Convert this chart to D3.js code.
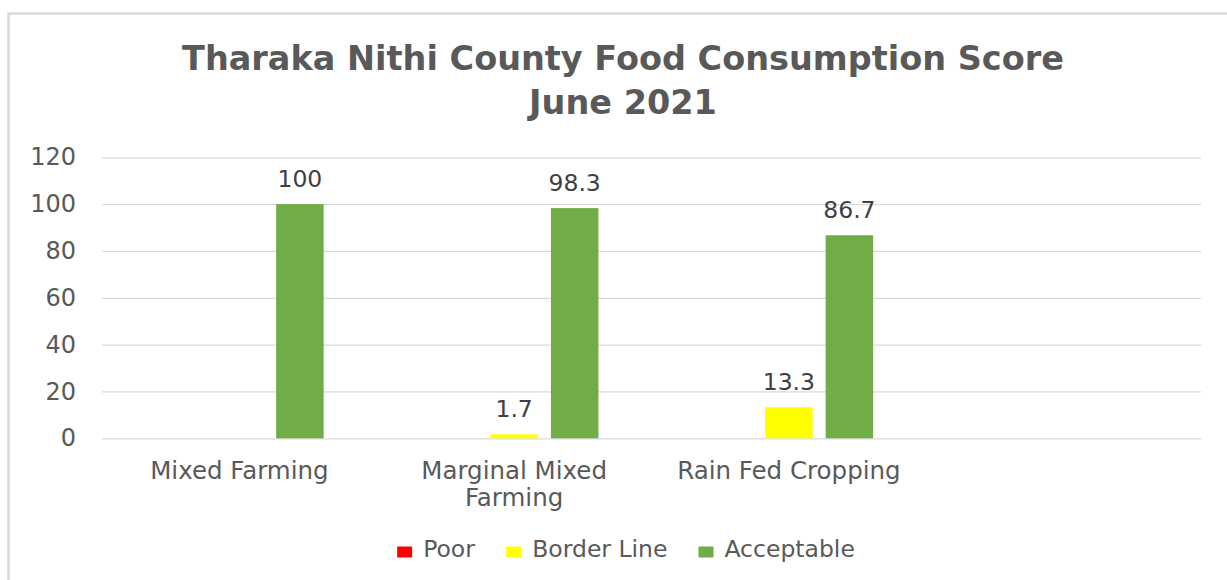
<!DOCTYPE html>
<html>
<head>
<meta charset="utf-8">
<script src="https://cdn.jsdelivr.net/npm/d3@7"></script>
<style>
  html, body { margin: 0; padding: 0; background: #ffffff; }
  svg { display: block; font-family: "DejaVu Sans", Verdana, sans-serif; }
</style>
</head>
<body>
<svg id="chart" width="1227" height="580"></svg>
<script>
// Food consumption score shares (%) by livelihood zone
const categories = ["Mixed Farming", "Marginal Mixed Farming", "Rain Fed Cropping", ""];
const seriesNames = ["Poor", "Border Line", "Acceptable"];
const poor = [null, null, null, null];
const borderLine = [null, 1.7, 13.3, null];
const acceptable = [100, 98.3, 86.7, null];
const seriesColors = ["#FF0000", "#FFFF00", "#70AD47"];
const yTicks = [0, 20, 40, 60, 80, 100, 120];
const titleLines = ["Tharaka Nithi County Food Consumption Score", "June 2021"];

const seriesValues = [poor, borderLine, acceptable];

const svg = d3.select("#chart");
const plot = { left: 102, right: 1201, top: 157.3, bottom: 438.3 };
const centerX = 623;

// outer frame
svg.append("rect")
  .attr("x", 8.5).attr("y", 13.5)
  .attr("width", 1300).attr("height", 700)
  .attr("fill", "none")
  .attr("stroke", "#d9d9d9")
  .attr("stroke-width", 2.5);

// title
svg.append("g").selectAll("text")
  .data(titleLines)
  .join("text")
  .attr("x", centerX)
  .attr("y", (d, i) => 70 + i * 44)
  .attr("text-anchor", "middle")
  .attr("font-weight", "bold")
  .attr("font-size", 33.5)
  .attr("fill", "#595959")
  .text(d => d);

const x0 = d3.scaleBand()
  .domain(categories)
  .range([plot.left, plot.right])
  .padding(0);

const x1 = d3.scaleBand()
  .domain(seriesNames)
  .range([0, x0.bandwidth()])
  .paddingInner(0.215)
  .paddingOuter(0.877);

const y = d3.scaleLinear()
  .domain([0, 120])
  .range([plot.bottom, plot.top]);

// y axis with gridlines
const yAxis = svg.append("g")
  .attr("transform", `translate(${plot.left},0)`)
  .call(d3.axisLeft(y)
    .tickValues(yTicks)
    .tickSize(-(plot.right - plot.left))
    .tickPadding(26));
yAxis.select(".domain").remove();
yAxis.selectAll(".tick line").attr("stroke", "#d9d9d9").attr("stroke-width", 1.2);
yAxis.selectAll(".tick text")
  .attr("font-family", "DejaVu Sans, sans-serif")
  .attr("font-size", 24)
  .attr("fill", "#595959");

// category axis
const xAxis = svg.append("g")
  .attr("transform", `translate(0,${plot.bottom})`)
  .call(d3.axisBottom(x0).tickSize(0).tickPadding(0));
xAxis.select(".domain").remove();
xAxis.selectAll(".tick text")
  .attr("font-family", "DejaVu Sans, sans-serif")
  .attr("font-size", 24.5)
  .attr("fill", "#595959")
  .call(wrap, x0.bandwidth() - 20);

function wrap(sel, width) {
  sel.each(function () {
    const text = d3.select(this);
    const words = text.text().split(/\s+/).filter(w => w.length);
    text.text(null).attr("y", null).attr("dy", null);
    let line = [];
    let lineNo = 0;
    let tspan = text.append("tspan").attr("x", 0).attr("y", 41);
    words.forEach(w => {
      line.push(w);
      tspan.text(line.join(" "));
      if (tspan.node().getComputedTextLength() > width && line.length > 1) {
        line.pop();
        tspan.text(line.join(" "));
        line = [w];
        lineNo += 1;
        tspan = text.append("tspan").attr("x", 0).attr("y", 41 + lineNo * 26.5).text(w);
      }
    });
  });
}

// bars
const rows = categories.map((c, i) => ({
  category: c,
  values: seriesNames.map((s, j) => ({ series: s, value: seriesValues[j][i], color: seriesColors[j] }))
}));

const groups = svg.append("g").selectAll("g")
  .data(rows)
  .join("g")
  .attr("transform", d => `translate(${x0(d.category)},0)`);

groups.selectAll("rect")
  .data(d => d.values.filter(v => v.value != null))
  .join("rect")
  .attr("x", d => x1(d.series))
  .attr("width", x1.bandwidth())
  .attr("y", d => y(d.value))
  .attr("height", d => y(0) - y(d.value))
  .attr("fill", d => d.color);

groups.selectAll("text")
  .data(d => d.values.filter(v => v.value != null))
  .join("text")
  .attr("x", d => x1(d.series) + x1.bandwidth() / 2)
  .attr("y", d => y(d.value) - 17.5)
  .attr("text-anchor", "middle")
  .attr("font-size", 23.5)
  .attr("fill", "#404040")
  .text(d => d.value);

// legend
const legend = svg.append("g");
const items = legend.selectAll("g")
  .data(seriesNames.map((s, i) => ({ name: s, color: seriesColors[i] })))
  .join("g");
items.append("rect")
  .attr("width", 15).attr("height", 11)
  .attr("y", -10.5)
  .attr("fill", d => d.color);
items.append("text")
  .attr("x", 26)
  .attr("y", 0)
  .attr("font-size", 23.5)
  .attr("fill", "#595959")
  .text(d => d.name);

const widths = [];
items.each(function () {
  widths.push(this.getBBox().width);
});
const gap = 31;
const total = d3.sum(widths) + gap * (widths.length - 1);
let cursor = 626 - total / 2;
items.attr("transform", (d, i) => {
  const tx = cursor;
  cursor += widths[i] + gap;
  return `translate(${tx},557)`;
});
</script>
</body>
</html>
